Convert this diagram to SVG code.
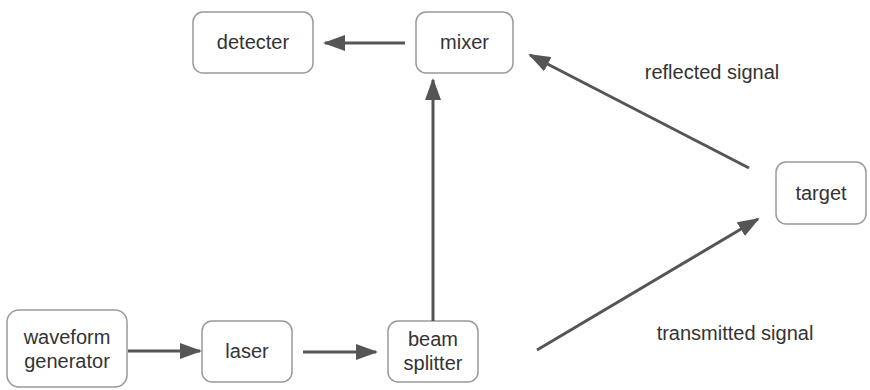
<svg xmlns="http://www.w3.org/2000/svg" width="870" height="390" viewBox="0 0 870 390">
<defs>
<marker id="ah" markerUnits="userSpaceOnUse" markerWidth="22" markerHeight="16" refX="20" refY="8" orient="auto">
<path d="M0,0 L22,8 L0,16 Z" fill="#555"/>
</marker>
<style>
.box{fill:#fff;stroke:#999;stroke-width:1.5}
.t{font-family:"Liberation Sans",Arial,sans-serif;font-size:20px;fill:#333;text-anchor:middle}
.c{stroke:#555;stroke-width:3;fill:none;marker-end:url(#ah)}
</style>
</defs>
<rect width="870" height="390" fill="#fff"/>
<g id="detecter"><rect class="box" x="193" y="12" width="120" height="61" rx="10"/><text class="t" x="253" y="49">detecter</text></g>
<g id="mixer"><rect class="box" x="416" y="12" width="97" height="61" rx="10"/><text class="t" x="464.5" y="49">mixer</text></g>
<g id="target"><rect class="box" x="776" y="162" width="90" height="62" rx="10"/><text class="t" x="821" y="200">target</text></g>
<g id="waveform"><rect class="box" x="7" y="310" width="120" height="77" rx="12"/><text class="t" x="67" y="344">waveform</text><text class="t" x="67" y="368">generator</text></g>
<g id="laser"><rect class="box" x="202" y="321" width="90" height="61" rx="10"/><text class="t" x="247" y="358">laser</text></g>
<g id="beam"><rect class="box" x="388" y="321" width="90" height="61" rx="10"/><text class="t" x="433" y="346">beam</text><text class="t" x="433" y="370">splitter</text></g>
<g id="connectors">
<line class="c" x1="405" y1="43" x2="325" y2="43"/>
<line class="c" x1="433" y1="321" x2="433" y2="80"/>
<line class="c" x1="128" y1="351" x2="200" y2="351"/>
<line class="c" x1="303" y1="352" x2="376" y2="352"/>
<line class="c" x1="537" y1="350" x2="758" y2="219"/>
<line class="c" x1="749" y1="168" x2="530" y2="55"/>
</g>
<text class="t" x="712" y="79">reflected signal</text>
<text class="t" x="735" y="340">transmitted signal</text>
</svg>
